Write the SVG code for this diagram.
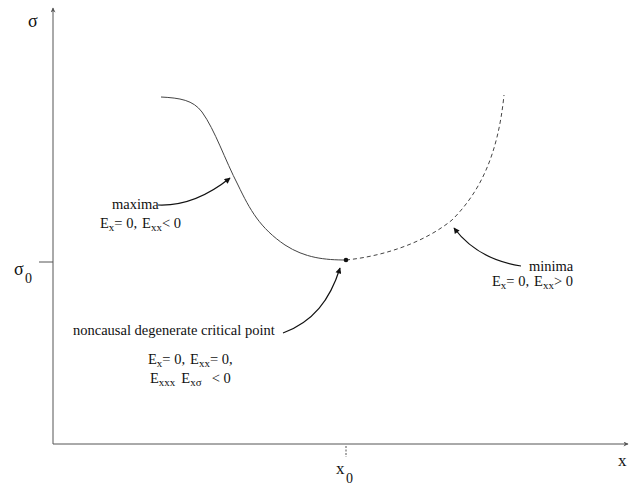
<svg xmlns="http://www.w3.org/2000/svg" width="633" height="489" viewBox="0 0 633 489">
<style>
text{font-family:"Liberation Serif","Times New Roman",serif;fill:#111}
.lbl{font-size:14.5px}
.sub{font-size:11px}
.ax{stroke:#555;stroke-width:1;fill:none}
.curve{stroke:#444;stroke-width:1;fill:none}
.dash{stroke:#444;stroke-width:1;fill:none;stroke-dasharray:4 3}
.arr{stroke:#111;stroke-width:1.2;fill:none;marker-end:url(#ah)}
</style>
<defs>
<marker id="ah" viewBox="0 0 10 10" refX="9" refY="5" markerWidth="8" markerHeight="6" orient="auto" markerUnits="userSpaceOnUse">
<path d="M0,0 L10,5 L0,10 z" fill="#111"/>
</marker>
<marker id="axh" viewBox="0 0 10 10" refX="9" refY="5" markerWidth="7" markerHeight="5" orient="auto" markerUnits="userSpaceOnUse">
<path d="M0,0 L10,5 L0,10 L3,5 z" fill="#555"/>
</marker>
</defs>
<g id="axes">
<line class="ax" x1="53" y1="444" x2="53" y2="8" marker-end="url(#axh)"/>
<line class="ax" x1="53" y1="444" x2="628" y2="444" marker-end="url(#axh)"/>
<line class="ax" x1="39" y1="262" x2="53" y2="262"/>
<line class="ax" x1="346" y1="446" x2="346" y2="457" stroke-dasharray="2 1.5"/>
<text x="28" y="27" font-size="18">σ</text>
<text x="14" y="275" font-size="18">σ</text><text x="25" y="283" font-size="14">0</text>
<text x="336" y="474" font-size="17">x</text><text x="346" y="483" font-size="14">0</text>
<text x="618" y="466" font-size="17">x</text>
</g>
<g id="curve">
<path class="curve" d="M161,97 C180,98 193,100 202,112 C215,130 225,160 238,185 C250,210 260,228 285,245 C305,258 325,260 346,260"/>
<path class="dash" d="M346,260 C385,256 425,242 452,220 C480,192 498,155 504,95"/>
<circle cx="346" cy="260" r="2.3" fill="#111"/>
</g>
<g id="maxima">
<text class="lbl" x="112" y="209">maxima</text>
<text class="lbl" x="100" y="228">E<tspan class="sub" dy="3">x</tspan><tspan dy="-3">= 0,</tspan><tspan dx="5">E</tspan><tspan class="sub" dy="3">xx</tspan><tspan dy="-3">&lt; 0</tspan></text>
</g>
<g id="minima">
<text class="lbl" x="529" y="271">minima</text>
<text class="lbl" x="492" y="286">E<tspan class="sub" dy="3">x</tspan><tspan dy="-3">= 0,</tspan><tspan dx="5">E</tspan><tspan class="sub" dy="3">xx</tspan><tspan dy="-3">&gt; 0</tspan></text>
</g>
<g id="critical">
<text class="lbl" x="73" y="335">noncausal degenerate critical point</text>
<text class="lbl" x="148" y="364">E<tspan class="sub" dy="3">x</tspan><tspan dy="-3">= 0,</tspan><tspan dx="5">E</tspan><tspan class="sub" dy="3">xx</tspan><tspan dy="-3">= 0,</tspan></text>
<text class="lbl" x="150" y="383">E<tspan class="sub" dy="3">xxx</tspan><tspan dx="6" dy="-3">E</tspan><tspan class="sub" dy="3">xσ</tspan><tspan dx="10" dy="-3">&lt; 0</tspan></text>
</g>
<g id="connectors">
<path class="arr" d="M158,205 C181,206 205,198 230,178"/>
<path class="arr" d="M521,266 C495,262 472,252 454,228"/>
<path class="arr" d="M283,333 C313,322 330,300 340,268"/>
</g>
</svg>
